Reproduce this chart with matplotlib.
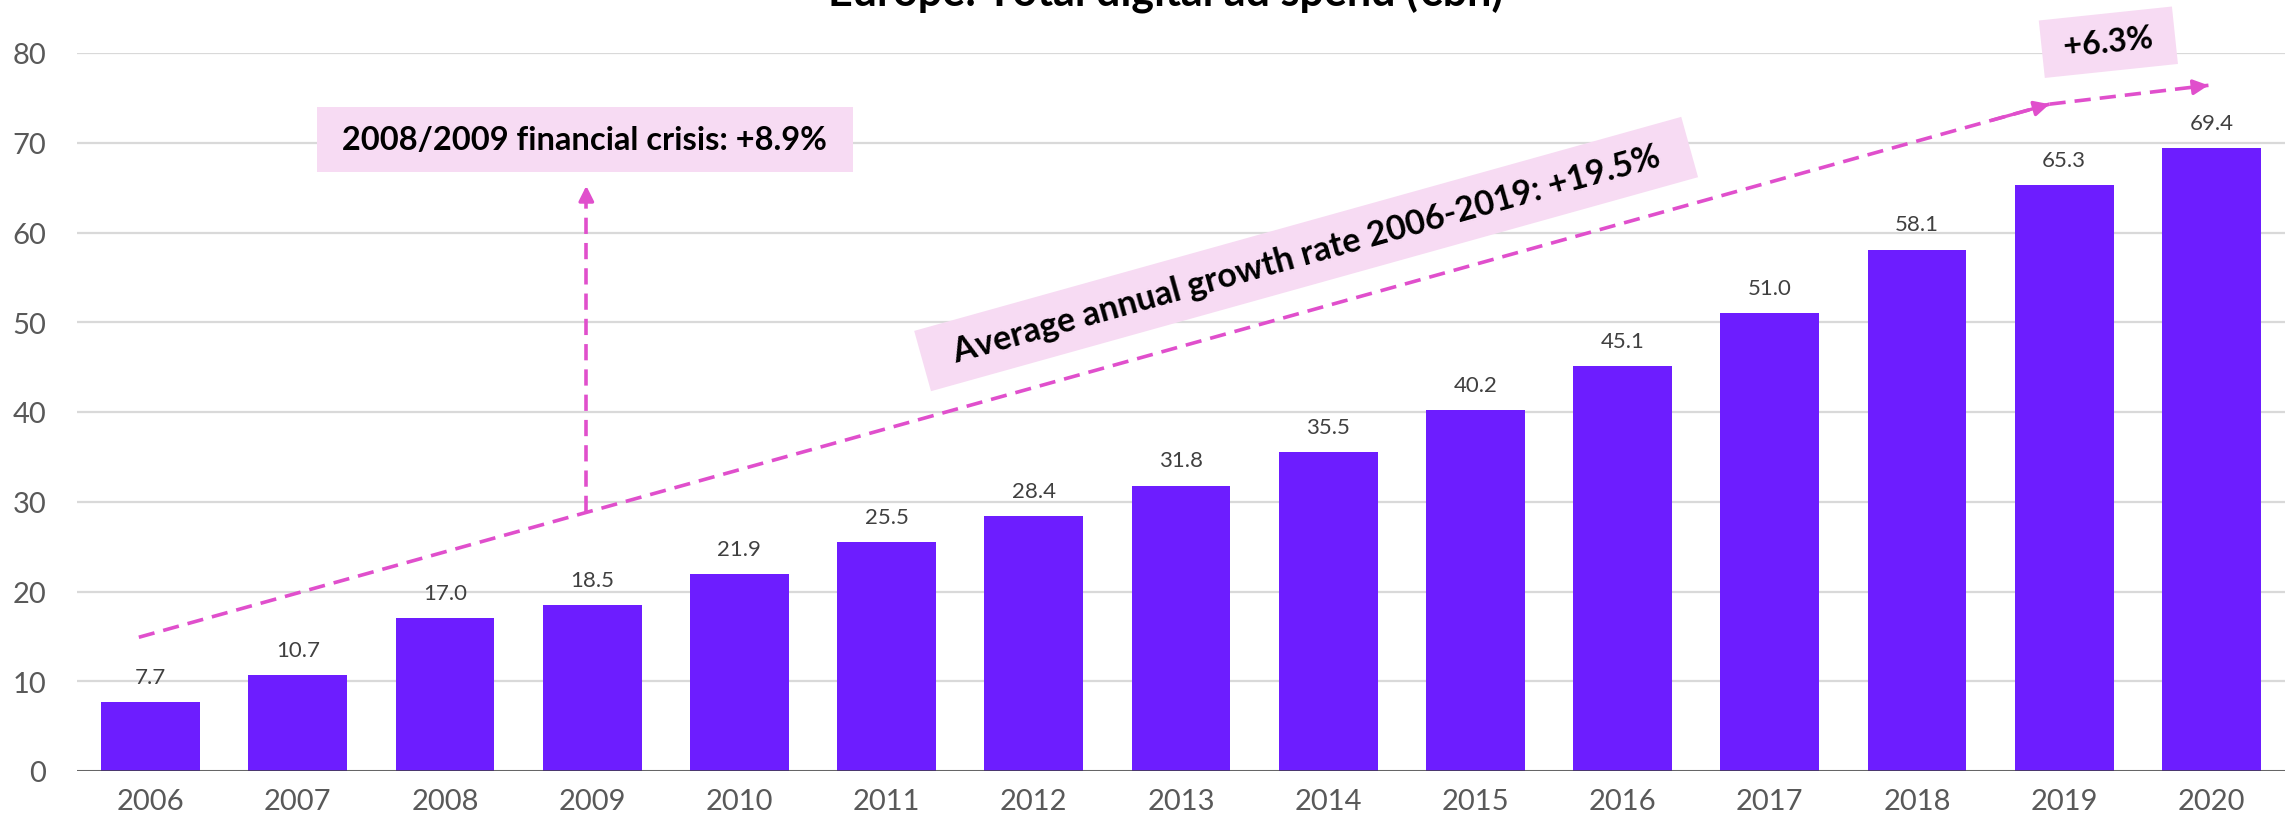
import numpy as np
import matplotlib
matplotlib.use("Agg")
import matplotlib.pyplot as plt

plt.rcParams["font.family"] = ["Lato", "DejaVu Sans"]

years = ["2006", "2007", "2008", "2009", "2010", "2011", "2012", "2013",
         "2014", "2015", "2016", "2017", "2018", "2019", "2020"]
spend = [7.7, 10.7, 17.0, 18.5, 21.9, 25.5, 28.4, 31.8,
         35.5, 40.2, 45.1, 51.0, 58.1, 65.3, 69.4]
y_ticks = [0, 10, 20, 30, 40, 50, 60, 70, 80]

title = "Europe: Total digital ad spend (€bn)"
crisis_label = "2008/2009 financial crisis: +8.9%"
cagr_label = "Average annual growth rate 2006-2019: +19.5%"
last_label = "+6.3%"

BAR = "#6d1dff"
ARROW = "#e04fcc"
BOX = "#f7dbf3"
GRID = "#d9d9d9"
TICK = "#595959"

fig = plt.figure(figsize=(22.85, 8.29), dpi=100)
ax = fig.add_axes([77 / 2285, 1 - 772 / 829, 1 - 77 / 2285, (772 - 54) / 829])

x = np.arange(len(years))
ax.bar(x, spend, width=0.67, color=BAR, zorder=2)
for xi, v in zip(x, spend):
    ax.annotate(f"{v:.1f}", (xi, v), xytext=(0, 11), textcoords="offset points",
                ha="center", va="bottom", fontsize=16, color="#404040")

ax.set_xlim(-0.5, len(years) - 0.5)
ax.set_ylim(0, 80)
ax.set_xticks(x, years)
ax.set_yticks(y_ticks)
ax.tick_params(axis="both", length=0, labelsize=21, labelcolor=TICK)
ax.tick_params(axis="x", pad=12)
ax.tick_params(axis="y", pad=22)
for s in ax.spines.values():
    s.set_visible(False)
ax.grid(axis="y", color=GRID, linewidth=1.6, zorder=0)
ax.axhline(0, color="#404040", linewidth=1.8, zorder=3)

DASH = (0, (4.5, 2.5))
HEAD = "-|>,head_length=0.9,head_width=0.45"


def dashed_arrow(p0, p1, t=0.97):
    ax.plot([p0[0], p1[0]], [p0[1], p1[1]], color=ARROW, linewidth=2.6,
            linestyle=DASH, clip_on=False, zorder=4)
    start = (p0[0] + (p1[0] - p0[0]) * t, p0[1] + (p1[1] - p0[1]) * t)
    ax.annotate("", xy=p1, xytext=start, annotation_clip=False,
                arrowprops=dict(arrowstyle=HEAD, color=ARROW, linewidth=2.4,
                                shrinkA=0, shrinkB=0),
                zorder=4)


# trend line 2006-2019 and the 2020 step
trend_start = (-0.08, 14.9)
trend_end = (12.9, 74.3)
last_end = (13.98, 76.4)
dashed_arrow(trend_start, trend_end)
dashed_arrow(trend_end, last_end, t=0.9)

# crisis arrow rises from the trend line
crisis_x = 2.96
slope = (trend_end[1] - trend_start[1]) / (trend_end[0] - trend_start[0])
crisis_y0 = trend_start[1] + slope * (crisis_x - trend_start[0])
dashed_arrow((crisis_x, crisis_y0), (crisis_x, 65.2))

ax.text(2.95, 70.4, f" {crisis_label} ", ha="center", va="center", fontsize=23.5,
        fontweight="bold", color="black", zorder=5,
        bbox=dict(boxstyle="square,pad=0.55", facecolor=BOX, edgecolor="none"))

angle = np.degrees(np.arctan2(trend_end[1] - trend_start[1],
                              trend_end[0] - trend_start[0]))
ax.text(7.85, 57.6, f"  {cagr_label}  ", ha="center", va="center", fontsize=24.5,
        fontweight="bold", color="black", rotation=angle,
        transform_rotates_text=True, rotation_mode="anchor", zorder=5,
        bbox=dict(boxstyle="square,pad=0.45", facecolor=BOX, edgecolor="none"))

ax.text(13.3, 81.2, f" {last_label} ", ha="center", va="center", fontsize=23,
        fontweight="bold", color="black", rotation=6, rotation_mode="anchor",
        clip_on=False, zorder=5,
        bbox=dict(boxstyle="square,pad=0.45", facecolor=BOX, edgecolor="none"))

fig.text(0.51, 1 - 6 / 829, title, ha="center", va="baseline", fontsize=31,
         fontweight="bold", color="black")

fig.savefig("out.png", dpi=100)
